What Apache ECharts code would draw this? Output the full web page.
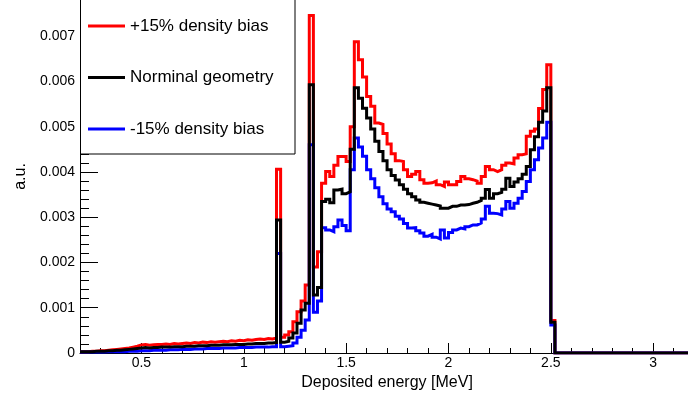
<!DOCTYPE html>
<html><head><meta charset="utf-8">
<script src="https://cdn.jsdelivr.net/npm/echarts@6/dist/echarts.min.js"></script>
<style>html,body{margin:0;padding:0;background:#fff}#c{width:688px;height:399px}</style>
</head><body><div id="c"></div>
<script>
// Histogram binning (lower edge of first visible bin, bin width in MeV)
const binStart = 0.2;
const binWidth = 0.02;
const seriesNames = ['+15% density bias', 'Norminal geometry', '-15% density bias'];
const seriesColors = ['#ff0000', '#000000', '#0000ff'];

// +15% density bias (bins from 0.20 MeV, width 0.02 MeV)
const redValues = [
  0.00003,0.00003,0.00004,0.00004,0.00005,0.00005,0.00006,0.00007,0.00008,0.00009,
  0.00010,0.00011,0.00013,0.00015,0.00018,0.00019,0.00017,0.00018,0.00019,0.00019,
  0.00020,0.00019,0.00021,0.00020,0.00021,0.00022,0.00021,0.00023,0.00022,0.00024,
  0.00023,0.00025,0.00024,0.00025,0.00026,0.00025,0.00027,0.00026,0.00028,0.00027,
  0.00029,0.00028,0.00030,0.00031,0.00030,0.00032,0.00031,0.00033,
  0.00406,0.00035,0.00040,0.00047,0.00069,0.00091,0.00115,0.00150,0.00746,0.00190,
  0.00224,0.00375,0.00401,0.00390,0.00415,0.00434,0.00434,0.00423,0.00500,0.00688,
  0.00648,0.00610,0.00567,0.00545,0.00508,0.00505,0.00485,0.00462,0.00440,0.00425,
  0.00423,0.00405,0.00390,0.00395,0.00401,0.00383,0.00375,0.00376,0.00380,0.00372,
  0.00368,0.00378,0.00372,0.00372,0.00379,0.00390,0.00385,0.00383,0.00380,0.00375,
  0.00390,0.00412,0.00405,0.00401,0.00405,0.00415,0.00420,0.00418,0.00431,0.00438,
  0.00440,0.00479,0.00490,0.00495,0.00540,0.00582,0.00637,0.00072,
  0,0,0,0,0,0,0,0,0,0,0,0,0,0,0,0,0,0,0,0,0,0,0,0,0,0,0,0,0,0,0,0,0
];

// Nominal geometry
const blackValues = [
  0.00003,0.00003,0.00003,0.00004,0.00004,0.00004,0.00005,0.00005,0.00006,0.00006,
  0.00007,0.00008,0.00009,0.00010,0.00011,0.00012,0.00011,0.00012,0.00012,0.00013,
  0.00013,0.00013,0.00014,0.00014,0.00014,0.00015,0.00015,0.00015,0.00016,0.00016,
  0.00016,0.00017,0.00017,0.00017,0.00018,0.00018,0.00018,0.00019,0.00019,0.00019,
  0.00020,0.00020,0.00021,0.00021,0.00021,0.00022,0.00022,0.00023,
  0.00294,0.00024,0.00026,0.00033,0.00044,0.00066,0.00095,0.00110,0.00593,0.00128,
  0.00145,0.00335,0.00340,0.00332,0.00360,0.00362,0.00352,0.00356,0.00450,0.00586,
  0.00563,0.00541,0.00519,0.00495,0.00468,0.00445,0.00425,0.00405,0.00392,0.00382,
  0.00372,0.00362,0.00352,0.00345,0.00338,0.00333,0.00331,0.00329,0.00327,0.00325,
  0.00320,0.00320,0.00324,0.00324,0.00327,0.00327,0.00328,0.00331,0.00333,0.00337,
  0.00342,0.00361,0.00342,0.00352,0.00355,0.00362,0.00386,0.00368,0.00378,0.00385,
  0.00395,0.00412,0.00449,0.00478,0.00510,0.00535,0.00586,0.00068,
  0,0,0,0,0,0,0,0,0,0,0,0,0,0,0,0,0,0,0,0,0,0,0,0,0,0,0,0,0,0,0,0,0
];

// -15% density bias
const blueValues = [
  0.00002,0.00002,0.00002,0.00002,0.00002,0.00002,0.00003,0.00003,0.00003,0.00003,
  0.00003,0.00004,0.00004,0.00004,0.00005,0.00005,0.00005,0.00006,0.00006,0.00006,
  0.00006,0.00007,0.00007,0.00007,0.00008,0.00008,0.00008,0.00009,0.00009,0.00009,
  0.00010,0.00010,0.00010,0.00010,0.00011,0.00011,0.00011,0.00011,0.00012,0.00012,
  0.00012,0.00012,0.00013,0.00013,0.00013,0.00013,0.00014,0.00014,
  0.00220,0.00014,0.00015,0.00016,0.00022,0.00035,0.00050,0.00073,0.00460,0.00090,
  0.00115,0.00277,0.00272,0.00268,0.00279,0.00294,0.00282,0.00270,0.00405,0.00475,
  0.00455,0.00435,0.00405,0.00385,0.00365,0.00345,0.00330,0.00318,0.00312,0.00302,
  0.00296,0.00286,0.00276,0.00277,0.00270,0.00265,0.00258,0.00262,0.00256,0.00252,
  0.00272,0.00254,0.00266,0.00272,0.00276,0.00274,0.00279,0.00283,0.00283,0.00287,
  0.00296,0.00324,0.00309,0.00308,0.00305,0.00318,0.00335,0.00320,0.00331,0.00342,
  0.00357,0.00379,0.00405,0.00427,0.00453,0.00475,0.00510,0.00062,
  0,0,0,0,0,0,0,0,0,0,0,0,0,0,0,0,0,0,0,0,0,0,0,0,0,0,0,0,0,0,0,0,0
];

const xTickLabels = [0.5, 1, 1.5, 2, 2.5, 3];
const yTickLabels = [0, 0.001, 0.002, 0.003, 0.004, 0.005, 0.006, 0.007];
const xMin = 0.2, xMax = 3.17, yMin = 0, yMax = 0.0078;

const FONT = '"Liberation Sans", Arial, Helvetica, sans-serif';

function toSteps(values) {
  const pts = values.map((v, i) => [+(binStart + i * binWidth).toFixed(4), v]);
  pts.push([+(binStart + values.length * binWidth).toFixed(4), values[values.length - 1]]);
  return pts;
}

const xMinor = [];
for (let k = 3; k <= 31; k++) { if (k % 5 !== 0) xMinor.push(+(k * 0.1).toFixed(2)); }
const yMinor = [];
for (let k = 1; k <= 38; k++) { if (k % 5 !== 0) yMinor.push(+(k * 0.0002).toFixed(5)); }

const chart = echarts.init(document.getElementById('c'), null, { renderer: 'canvas' });

function mkSeries(idx, values) {
  return {
    name: seriesNames[idx], type: 'line', step: 'end', data: toSteps(values),
    showSymbol: false, symbol: 'none', clip: true,
    lineStyle: { color: seriesColors[idx], width: 3, join: 'miter' },
    itemStyle: { color: seriesColors[idx] },
    xAxisIndex: 0, yAxisIndex: 0, z: 2
  };
}

chart.setOption({
  animation: false,
  backgroundColor: '#fff',
  textStyle: { fontFamily: FONT },
  grid: { left: 80, right: 0, top: 0, bottom: 46 },
  xAxis: [
    {
      type: 'value', min: xMin, max: xMax, position: 'bottom',
      axisLine: { show: true, onZero: false, lineStyle: { color: '#000', width: 1 } },
      axisTick: { show: true, inside: true, length: 10, customValues: xTickLabels, lineStyle: { color: '#000' } },
      axisLabel: { customValues: xTickLabels, color: '#000', fontSize: 14, fontFamily: FONT, margin: 3,
        formatter: v => String(v) },
      splitLine: { show: false },
      name: 'Deposited energy [MeV]', nameLocation: 'middle', nameGap: 19,
      nameTextStyle: { color: '#000', fontSize: 16, fontFamily: FONT, padding: [0, 0, 0, 6] }
    },
    {
      type: 'value', min: xMin, max: xMax, position: 'bottom',
      axisLine: { show: false },
      axisTick: { show: true, inside: true, length: 5, customValues: xMinor, lineStyle: { color: '#000' } },
      axisLabel: { show: false }, splitLine: { show: false }
    }
  ],
  yAxis: [
    {
      type: 'value', min: yMin, max: yMax, position: 'left',
      axisLine: { show: true, onZero: false, lineStyle: { color: '#000', width: 1 } },
      axisTick: { show: true, inside: true, length: 18, customValues: yTickLabels, lineStyle: { color: '#000' } },
      axisLabel: { customValues: yTickLabels, color: '#000', fontSize: 14, fontFamily: FONT, margin: 5,
        formatter: v => (v === 0 ? '0' : v.toFixed(3)) },
      splitLine: { show: false },
      name: 'a.u.', nameLocation: 'middle', nameGap: 47, nameRotate: 90,
      nameTextStyle: { color: '#000', fontSize: 16, fontFamily: FONT }
    },
    {
      type: 'value', min: yMin, max: yMax, position: 'left',
      axisLine: { show: false },
      axisTick: { show: true, inside: true, length: 9, customValues: yMinor, lineStyle: { color: '#000' } },
      axisLabel: { show: false }, splitLine: { show: false }
    }
  ],
  legend: {
    orient: 'vertical', left: 88, top: 16, padding: 0,
    icon: 'rect', itemWidth: 37, itemHeight: 3, itemGap: 31.5, itemTextGap: 10,
    textStyle: { fontSize: 17, color: '#000', fontFamily: FONT, lineHeight: 20 },
    data: seriesNames, selectedMode: false, z: 20
  },
  graphic: [
    { type: 'rect', z: 10, shape: { x: 80.5, y: -0.5, width: 214.5, height: 154.5 },
      style: { fill: '#fff', stroke: '#000', lineWidth: 1 } }
  ],
  series: [ mkSeries(0, redValues), mkSeries(2, blueValues), mkSeries(1, blackValues) ]
});
</script></body></html>
